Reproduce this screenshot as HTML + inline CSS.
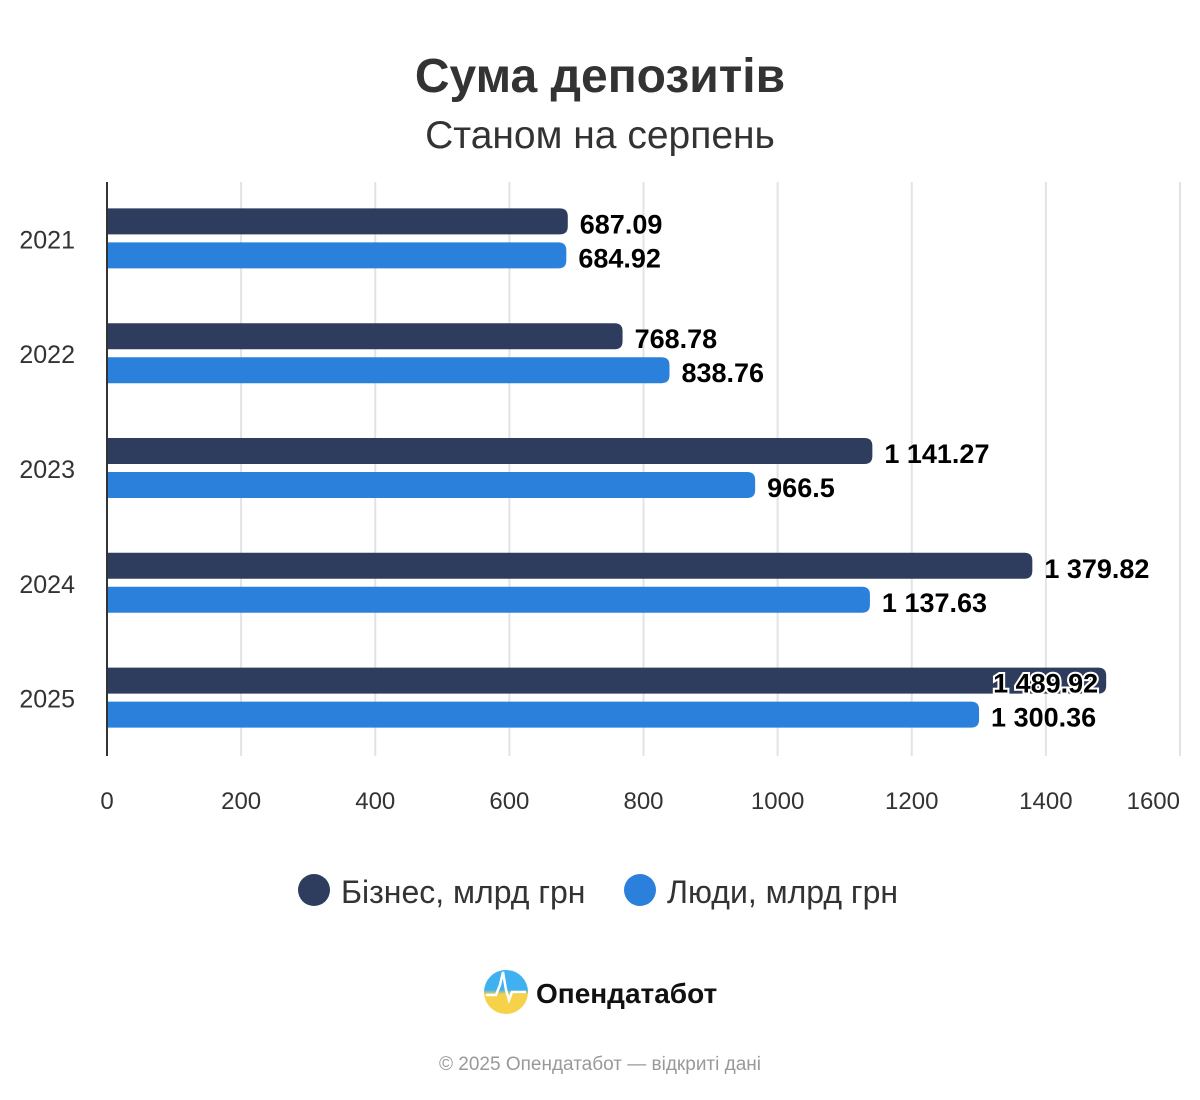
<!DOCTYPE html>
<html><head><meta charset="utf-8"><style>
body{margin:0;background:#fff;width:1200px;height:1100px;overflow:hidden;font-family:"Liberation Sans","DejaVu Sans",sans-serif}
svg{display:block}
</style></head><body>
<svg id="chart" width="1200" height="1100">
<text x="600" y="92" text-anchor="middle" font-size="48" font-weight="bold" fill="#333">Сума депозитів</text>
<text x="600" y="148" text-anchor="middle" font-size="39" fill="#333">Станом на серпень</text>
<g id="grid"></g><g id="bars"></g><g id="labels"></g>
<line x1="107" y1="182" x2="107" y2="756" stroke="#333" stroke-width="2"/>
<g>
<circle cx="314" cy="890" r="16" fill="#2e3d5e"/>
<text x="341" y="903" font-size="32" fill="#333">Бізнес, млрд грн</text>
<circle cx="640" cy="890" r="16" fill="#2b80db"/>
<text x="667" y="903" font-size="32" fill="#333">Люди, млрд грн</text>
</g>
<defs><linearGradient id="lg" x1="0" y1="0" x2="0" y2="1"><stop offset="0.45" stop-color="#3fb0f0"/><stop offset="0.55" stop-color="#f5d24a"/></linearGradient></defs>
<g>
<circle cx="506" cy="992" r="22" fill="url(#lg)"/>
<polyline points="486,995 496,995 500,985 503,972 506,990 509,1000 512,992 526,992" fill="none" stroke="#fff" stroke-width="2.5"/>
<text x="536" y="1003" font-size="28" font-weight="bold" fill="#111">Опендатабот</text>
</g>
<text x="600" y="1070" text-anchor="middle" font-size="19" fill="#999">© 2025 Опендатабот — відкриті дані</text>
</svg>
<script>
const categories=["2021","2022","2023","2024","2025"];
const business=[687.09,768.78,1141.27,1379.82,1489.92];
const people=[684.92,838.76,966.5,1137.63,1300.36];
const businessLabels=["687.09","768.78","1 141.27","1 379.82","1 489.92"];
const peopleLabels=["684.92","838.76","966.5","1 137.63","1 300.36"];
const xTicks=[0,200,400,600,800,1000,1200,1400,1600];
const NS="http://www.w3.org/2000/svg";
const X0=107,X1=1180,XMAX=1600,Y0=182,Y1=756;
const xs=v=>X0+(X1-X0)*v/XMAX;
const band=(Y1-Y0)/categories.length;
const yc=i=>Y0+band*(i+0.5);
function mk(tag,attrs,parent){const e=document.createElementNS(NS,tag);for(const k in attrs)e.setAttribute(k,attrs[k]);parent.appendChild(e);return e;}
const grid=document.getElementById('grid'),bars=document.getElementById('bars'),labels=document.getElementById('labels');
xTicks.forEach((t,k)=>{
  if(t>0){const l=mk('line',{x1:xs(t),x2:xs(t),y1:Y0,y2:Y1,stroke:'#e3e3e3','stroke-width':2},grid);
  
  }
  const last=k===xTicks.length-1;
  const tx=mk('text',{x:last?xs(t):xs(t),y:809,'text-anchor':last?'end':'middle','font-size':24,fill:'#333'},grid);
  tx.textContent=t;
  
  
});
function bar(x0,x1,y,h,r){
  return `M${x0},${y} H${x1-r} Q${x1},${y} ${x1},${y+r} V${y+h-r} Q${x1},${y+h} ${x1-r},${y+h} H${x0} Z`;
}
categories.forEach((c,i)=>{
  const cy=yc(i);
  const t=mk('text',{x:75,y:cy+9,'text-anchor':'end','font-size':25,fill:'#333'},grid);
  t.textContent=c;
  
  
  [[business,businessLabels,'#2e3d5e',-31,'business'],[people,peopleLabels,'#2b80db',3,'people']].forEach(([arr,lab,col,off,nm])=>{
    const y=cy+off,h=26,xe=xs(arr[i]);
    const p=mk('path',{d:bar(X0,xe,y,h,8),fill:col},bars);
    
    
    const inside=xe+12+115>1170;
    const lt=mk('text',{x:inside?xe-8:xe+12,y:y+h/2+12,'text-anchor':inside?'end':'start','font-size':27,'font-weight':'bold',fill:'#000'},labels);
    if(inside){lt.setAttribute('stroke','#fff');lt.setAttribute('stroke-width','4');lt.setAttribute('paint-order','stroke');}
    lt.textContent=lab[i];
    
    
  });
});
</script>
</body></html>
